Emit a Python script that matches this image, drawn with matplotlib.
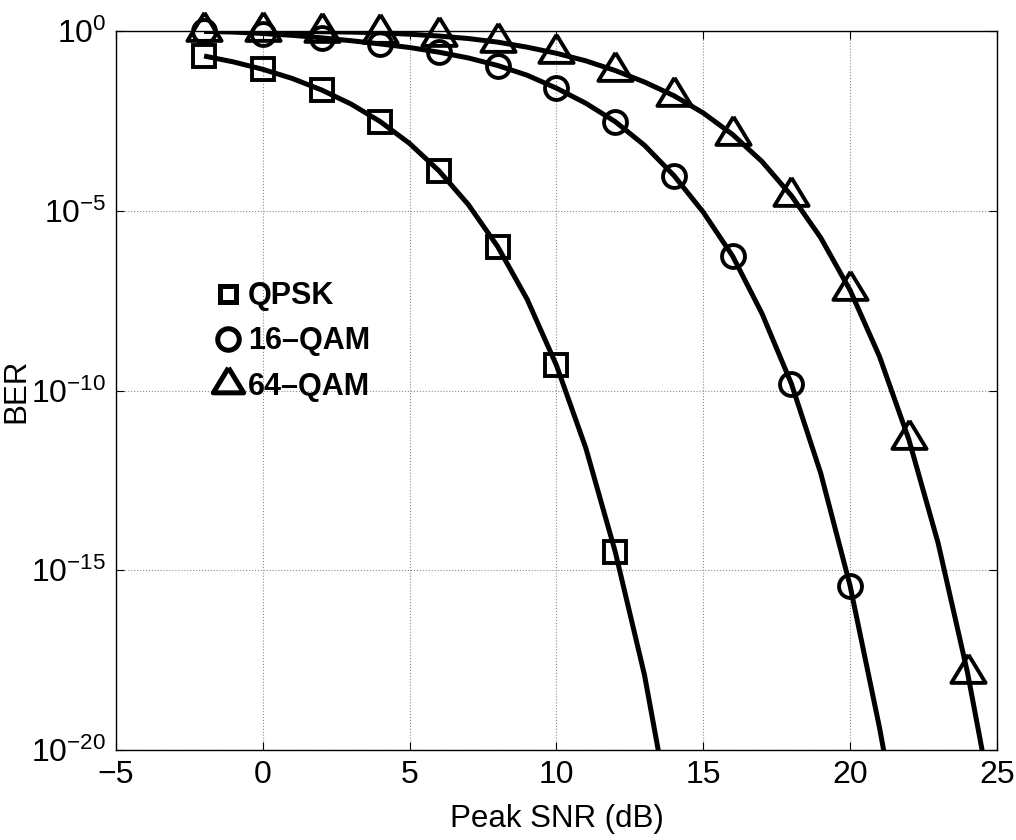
import numpy as np
import matplotlib
matplotlib.use("Agg")
import matplotlib.pyplot as plt
from matplotlib.lines import Line2D

plt.rcParams['font.family'] = ['Liberation Sans', 'DejaVu Sans']
plt.rcParams['mathtext.fontset'] = 'custom'
plt.rcParams['mathtext.rm'] = 'Liberation Sans'
plt.rcParams['mathtext.it'] = 'Liberation Sans:italic'
plt.rcParams['mathtext.bf'] = 'Liberation Sans:bold'

# log10(BER), 1 dB apart (last point just below the axis)
qpsk_snr = [-2, -1, 0, 1, 2, 3, 4, 5, 6, 7, 8, 9, 10, 11, 12, 13, 13.6]
qpsk_log = [-0.695, -0.86, -1.066, -1.32, -1.64, -2.03, -2.52, -3.13, -3.89,
            -4.83, -6.0, -7.46, -9.3, -11.6, -14.48, -17.92, -20.6]

qam16_snr = [-2, -1, 0, 1, 2, 3, 4, 5, 6, 7, 8, 9, 10, 11, 12, 13, 14, 15,
             16, 17, 18, 19, 20, 21, 21.3]
qam16_log = [-0.01, -0.03, -0.07, -0.12, -0.19, -0.27, -0.36, -0.46, -0.59,
             -0.75, -0.96, -1.23, -1.59, -2.01, -2.52, -3.18, -4.02, -5.04,
             -6.26, -7.86, -9.81, -12.3, -15.43, -19.37, -20.7]

qam64_snr = [-2, -1, 0, 1, 2, 3, 4, 5, 6, 7, 8, 9, 10, 11, 12, 13, 14, 15,
             16, 17, 18, 19, 20, 21, 22, 23, 24, 24.6]
qam64_log = [0.0, 0.0, -0.01, -0.01, -0.02, -0.03, -0.05, -0.09, -0.14, -0.21,
             -0.31, -0.45, -0.62, -0.83, -1.10, -1.42, -1.80, -2.28, -2.88,
             -3.63, -4.58, -5.75, -7.21, -9.05, -11.36, -14.25, -17.85, -20.45]

# SNR values where markers are drawn
qpsk_marks = [-2, 0, 2, 4, 6, 8, 10, 12]
qam16_marks = [-2, 0, 2, 4, 6, 8, 10, 12, 14, 16, 18, 20]
qam64_marks = [-2, 0, 2, 4, 6, 8, 10, 12, 14, 16, 18, 20, 22, 24]

labels = ['QPSK', '16\u2013QAM', '64\u2013QAM']

# wide triangle with its centroid on the data point (MATLAB style)
tri = [(0, 17), (-15.5, -8.5), (15.5, -8.5), (0, 17)]

fig = plt.figure(figsize=(10.16, 8.4), dpi=100)
ax = fig.add_axes([0.1142, 0.1071, 0.867, 0.856])

series = [
    (qpsk_snr, qpsk_log, qpsk_marks, 's', 15.5),
    (qam16_snr, qam16_log, qam16_marks, 'o', 16.5),
    (qam64_snr, qam64_log, qam64_marks, tri, 27),
]
for snr, lg, marks, mk, ms in series:
    snr = np.array(snr)
    ber = 10.0 ** np.array(lg)
    ax.plot(snr, ber, color='black', lw=3.6, solid_capstyle='butt',
            solid_joinstyle='round', zorder=3)
    sel = np.isin(snr, marks)
    ax.plot(snr[sel], ber[sel], linestyle='none', marker=mk, ms=ms,
            mfc='none', mec='black', mew=2.8, clip_on=False, zorder=4)

ax.set_yscale('log')
ax.set_xlim(-5, 25)
ax.set_ylim(1e-20, 1e0)
ax.set_xticks([-5, 0, 5, 10, 15, 20, 25])
yt = [1e-20, 1e-15, 1e-10, 1e-5, 1e0]
ax.set_yticks(yt)
ax.set_yticklabels([r'$10^{-20}$', r'$10^{-15}$', r'$10^{-10}$', r'$10^{-5}$', r'$10^{0}$'])
ax.yaxis.set_minor_locator(matplotlib.ticker.NullLocator())
ax.tick_params(axis='both', which='major', direction='in', length=6, width=0.8,
               top=True, right=True, labelsize=23, pad=7)
ax.grid(True, which='major', linestyle=':', color='#8c8c8c', lw=0.8)
for s in ax.spines.values():
    s.set_linewidth(1.0)

ax.set_xlabel('Peak SNR (dB)', fontsize=22.5, labelpad=10)
ax.set_ylabel('BER', fontsize=22.5, labelpad=0)

handles = [
    Line2D([], [], linestyle='none', marker='s', ms=12, mfc='none', mec='black', mew=3.6),
    Line2D([], [], linestyle='none', marker='o', ms=15.5, mfc='none', mec='black', mew=3.6),
    Line2D([], [], linestyle='none', marker=tri, ms=24, mfc='none', mec='black', mew=3.6),
]
ax.legend(handles, labels, loc='upper left', bbox_to_anchor=(0.096, 0.669),
          frameon=False, handlelength=1.0, handletextpad=0.15, labelspacing=0.5,
          borderaxespad=0, prop={'weight': 'bold', 'size': 22})

plt.savefig('out.png', dpi=100)
